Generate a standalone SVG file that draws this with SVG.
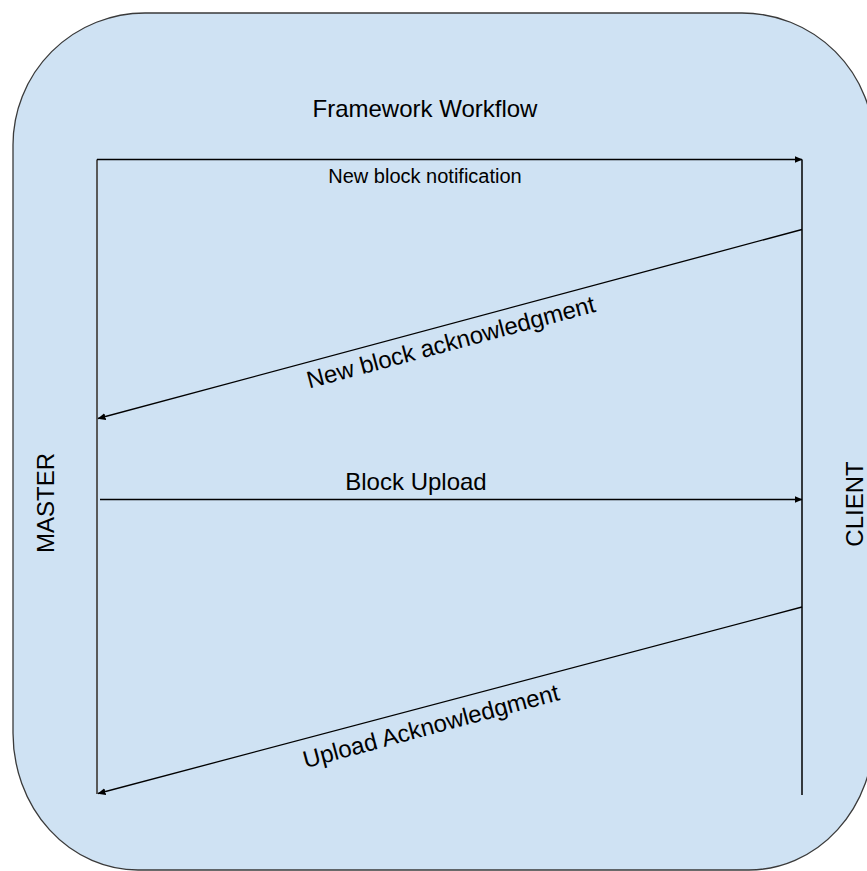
<svg xmlns="http://www.w3.org/2000/svg" width="867" height="871" viewBox="0 0 867 871">
  <style>
    .lbl { font-family: "Liberation Sans", Arial, sans-serif; fill: #000; }
    .msg { fill: none; stroke: #000; stroke-width: 1.3; }
  </style>
  <defs>
    <marker id="arrow" viewBox="0 0 8 7" refX="7.5" refY="3.5" markerWidth="8" markerHeight="7" markerUnits="userSpaceOnUse" orient="auto">
      <path d="M0,0 L8,3.5 L0,7 Z" fill="#000"/>
    </marker>
  </defs>

  <rect width="867" height="871" fill="#ffffff"/>

  <!-- container -->
  <g id="frame">
    <path d="M145,13 H742 A132,132 0 0 1 874,145 V733 A125,137 0 0 1 749,870 H138 A125,137 0 0 1 13,733 V145 A132,132 0 0 1 145,13 Z" fill="#cfe2f3" stroke="#3a3a3a" stroke-width="1.3"/>
    <text class="lbl" x="425" y="117" font-size="24" text-anchor="middle">Framework Workflow</text>
  </g>

  <!-- lifelines -->
  <g id="master">
    <line x1="97" y1="159.5" x2="97" y2="794" stroke="#595959" stroke-width="2"/>
    <text class="lbl" font-size="24" text-anchor="middle" transform="translate(54,503) rotate(-90)">MASTER</text>
  </g>
  <g id="client">
    <line x1="802" y1="159.5" x2="802" y2="795" stroke="#000" stroke-width="1.5"/>
    <text class="lbl" font-size="24" text-anchor="middle" transform="translate(863,504) rotate(-90)">CLIENT</text>
  </g>

  <!-- messages -->
  <g id="connectors">
    <line class="msg" x1="97" y1="159.5" x2="802" y2="159.5" marker-end="url(#arrow)"/>
    <line class="msg" x1="802" y1="229.5" x2="98" y2="418.5" marker-end="url(#arrow)"/>
    <line class="msg" x1="100" y1="499.5" x2="802" y2="499.5" marker-end="url(#arrow)"/>
    <line class="msg" x1="802" y1="607" x2="98" y2="793.5" marker-end="url(#arrow)"/>
  </g>

  <g id="labels">
    <text class="lbl" x="425" y="183" font-size="20" text-anchor="middle">New block notification</text>
    <text class="lbl" font-size="24" text-anchor="middle" transform="translate(453,350) rotate(-15)">New block acknowledgment</text>
    <text class="lbl" x="416" y="490" font-size="24" text-anchor="middle">Block Upload</text>
    <text class="lbl" font-size="24" text-anchor="middle" transform="translate(433,734) rotate(-15)">Upload Acknowledgment</text>
  </g>
</svg>
